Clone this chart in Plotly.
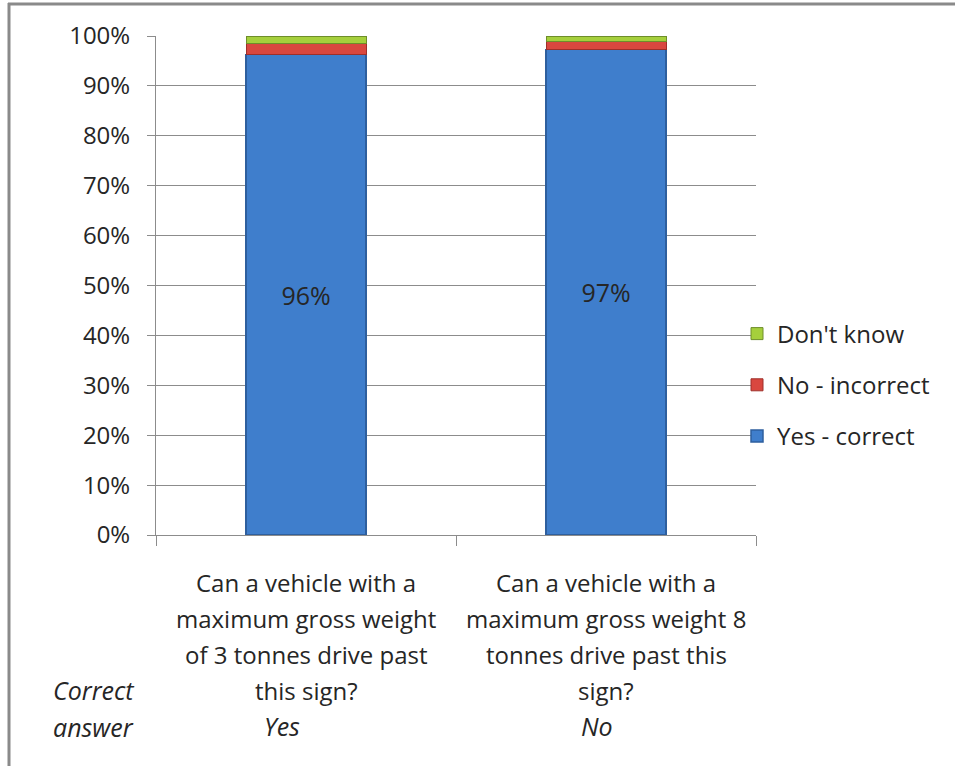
import plotly.graph_objects as go

categories = ["Q1", "Q2"]
category_lines = [
    ["Can a vehicle with a", "maximum gross weight", "of 3 tonnes drive past", "this sign?"],
    ["Can a vehicle with a", "maximum gross weight 8", "tonnes drive past this", "sign?"],
]
correct_answers = ["Yes", "No"]
yes_correct = [96.3, 97.3]
no_incorrect = [2.2, 1.5]
dont_know = [1.5, 1.2]
yes_labels = ["96%", "97%"]
ytick_vals = [0, 10, 20, 30, 40, 50, 60, 70, 80, 90, 100]
ytick_text = [f"{v}%" for v in ytick_vals]

W, H = 955, 766
L, R, T, B = 156, 756, 36, 535
FONT = "Open Sans"
TXT = "#262626"
FS = 24

def px(x):
    return (x - L) / (R - L)

def py(y):
    return (B - y) / (B - T)

fig = go.Figure()
fig.add_trace(go.Bar(
    x=categories, y=yes_correct, name="Yes - correct", legendgroup="a", legendrank=3,
    marker=dict(color="#3F7ECC", line=dict(color="#2E5F9E", width=1.5)),
    text=yes_labels, textposition="inside", insidetextanchor="middle",
    textfont=dict(size=25, color=TXT, family=FONT), textangle=0,
    width=0.4, hoverinfo="skip",
))
fig.add_trace(go.Bar(
    x=categories, y=no_incorrect, name="No - incorrect", legendgroup="b", legendrank=2,
    marker=dict(color="#D9473F", line=dict(color="#9E2F2A", width=1)),
    width=0.4, hoverinfo="skip",
))
fig.add_trace(go.Bar(
    x=categories, y=dont_know, name="Don't know", legendgroup="c", legendrank=1,
    marker=dict(color="#A5CF3C", line=dict(color="#6E8E2A", width=1)),
    width=0.4, hoverinfo="skip",
))

def ann(x, y, text, size=FS, xref="paper"):
    return dict(x=x, xref=xref, y=y, yref="paper", text=text, showarrow=False,
                xanchor="center", yanchor="middle",
                font=dict(size=size, color=TXT, family=FONT))

annotations = []
for i, lines in enumerate(category_lines):
    for j, line in enumerate(lines):
        annotations.append(ann(categories[i], py(582 + 36 * j), line, xref="x"))
annotations.append(ann(px(282), py(726), "<i>" + correct_answers[0] + "</i>", 25))
annotations.append(ann(px(597), py(726), "<i>" + correct_answers[1] + "</i>", 25))
annotations.append(ann(px(93), py(690), "<i>Correct</i>", 25))
annotations.append(ann(px(93), py(727), "<i>answer</i>", 25))

shapes = [
    dict(type="line", xref="paper", yref="paper", x0=px(9), x1=px(9), y0=py(3), y1=py(770),
         line=dict(color="#8a8a8a", width=3)),
    dict(type="line", xref="paper", yref="paper", x0=px(8), x1=px(960), y0=py(4), y1=py(4),
         line=dict(color="#8a8a8a", width=3)),
]

fig.update_layout(
    width=W, height=H,
    margin=dict(l=L, r=W - R, t=T, b=H - B, pad=0),
    paper_bgcolor="white", plot_bgcolor="white",
    barmode="stack",
    font=dict(family=FONT, size=FS, color=TXT),
    showlegend=True,
    legend=dict(x=px(737), xanchor="left", y=py(385), yanchor="middle",
                traceorder="grouped", tracegroupgap=17,
                font=dict(size=FS, color=TXT, family=FONT), bgcolor="rgba(0,0,0,0)"),
    xaxis=dict(showticklabels=False, tickson="boundaries", ticks="outside", ticklen=10,
               tickcolor="#8c8c8c", showline=True, linecolor="#8c8c8c", linewidth=1,
               showgrid=False, range=[-0.5, 1.5], fixedrange=True),
    yaxis=dict(range=[0, 100], tickvals=ytick_vals, ticktext=ytick_text,
               ticks="outside", ticklen=8, tickcolor="#8c8c8c", ticklabelstandoff=12,
               showline=True, linecolor="#8c8c8c", linewidth=1,
               showgrid=True, gridcolor="#8c8c8c", gridwidth=1, zeroline=False,
               tickfont=dict(size=FS, color=TXT, family=FONT), fixedrange=True),
    annotations=annotations,
    shapes=shapes,
)

fig.write_html("out.html", config={"displayModeBar": False},
               post_script="document.body.style.margin='0';")
